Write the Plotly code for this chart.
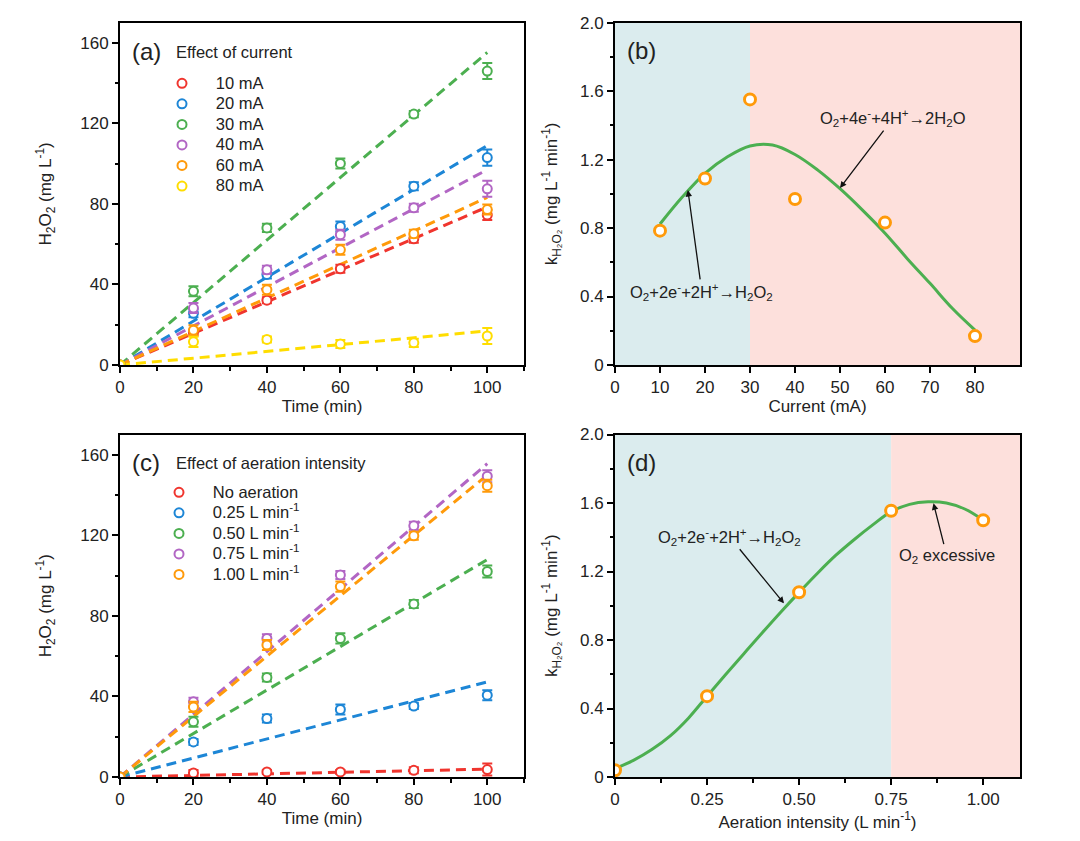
import plotly.graph_objects as go

# ---------------- data ----------------
time_min = [0, 20, 40, 60, 80, 100]

# Panel (a): effect of current
current_labels = ["10 mA", "20 mA", "30 mA", "40 mA", "60 mA", "80 mA"]
current_mA = [10, 20, 30, 40, 60, 80]
h2o2_10mA = [0, 16.0, 32.2, 47.8, 62.7, 74.5]
h2o2_20mA = [0, 25.7, 45.0, 68.8, 88.8, 103.0]
h2o2_30mA = [0, 36.6, 68.1, 100.1, 124.6, 146.0]
h2o2_40mA = [0, 28.3, 47.3, 64.7, 78.1, 87.5]
h2o2_60mA = [0, 17.3, 37.4, 57.2, 65.2, 77.2]
h2o2_80mA = [0, 11.5, 12.7, 10.4, 11.0, 14.4]
err_10mA = [0, 1.5, 1.5, 2.0, 2.0, 2.5]
err_20mA = [0, 2.0, 2.0, 2.5, 2.0, 4.0]
err_30mA = [0, 2.5, 2.0, 2.5, 1.5, 4.0]
err_40mA = [0, 2.5, 2.0, 2.5, 2.0, 4.0]
err_60mA = [0, 2.5, 2.5, 2.5, 2.0, 2.5]
err_80mA = [0, 2.5, 1.5, 2.0, 2.0, 4.0]
# rate constants (panel b), mg L-1 min-1
k_current = [0.785, 1.09, 1.552, 0.97, 0.832, 0.169]

# Panel (c): effect of aeration intensity
aeration_labels = ["No aeration", "0.25 L min<sup>-1</sup>", "0.50 L min<sup>-1</sup>",
                   "0.75 L min<sup>-1</sup>", "1.00 L min<sup>-1</sup>"]
aeration_rate = [0, 0.25, 0.50, 0.75, 1.00]
h2o2_air0 = [0, 2.0, 2.5, 2.5, 3.3, 3.7]
h2o2_air025 = [0, 17.4, 29.0, 33.5, 35.2, 40.6]
h2o2_air050 = [0, 27.4, 49.4, 68.8, 85.9, 102.0]
h2o2_air075 = [0, 37.3, 68.8, 100.3, 124.7, 149.3]
h2o2_air100 = [0, 34.8, 65.5, 94.5, 119.7, 144.6]
err_air0 = [0, 1.5, 1.0, 1.0, 1.5, 3.0]
err_air025 = [0, 1.5, 2.0, 2.5, 1.5, 2.5]
err_air050 = [0, 2.5, 2.0, 2.5, 2.0, 3.0]
err_air075 = [0, 2.0, 2.0, 2.0, 2.0, 3.0]
err_air100 = [0, 2.5, 2.5, 2.5, 2.0, 3.0]
k_aeration = [0.039, 0.472, 1.079, 1.555, 1.499]

# smooth guide curves
curve_b_x = [10, 15, 20, 25, 30, 35, 40, 45, 50, 55, 60, 65, 70, 75, 80]
curve_b_y = [0.824, 0.983, 1.12, 1.217, 1.28, 1.285, 1.23, 1.14, 1.03, 0.905, 0.77, 0.62, 0.477, 0.33, 0.204]
curve_d_x = [0, 0.05, 0.1, 0.15, 0.2, 0.25, 0.3, 0.35, 0.4, 0.45, 0.5, 0.55, 0.6, 0.65, 0.7,
             0.75, 0.8, 0.85, 0.9, 0.95, 1.0]
curve_d_y = [0.049, 0.097, 0.16, 0.24, 0.345, 0.472, 0.597, 0.72, 0.842, 0.962, 1.078, 1.19, 1.295,
             1.387, 1.472, 1.55, 1.592, 1.607, 1.60, 1.565, 1.50]

split_b = 30
split_d = 0.75

# tick labels
ticks_time = [0, 20, 40, 60, 80, 100]
ticks_h2o2 = [0, 40, 80, 120, 160]
ticks_current = [0, 10, 20, 30, 40, 50, 60, 70, 80]
ticks_k = [0, 0.4, 0.8, 1.2, 1.6, 2.0]
ticks_k_text = ["0", "0.4", "0.8", "1.2", "1.6", "2.0"]
ticks_air = [0, 0.25, 0.5, 0.75, 1.0]
ticks_air_text = ["0", "0.25", "0.50", "0.75", "1.00"]

# ---------------- styles ----------------
C_RED = "#F0352E"
C_BLUE = "#1D86D6"
C_GREEN = "#4CAF50"
C_PURPLE = "#B266C4"
C_ORANGE = "#FF9A0A"
C_YELLOW = "#FFDD00"
C_BLUE_BG = "#DBECEE"
C_PINK_BG = "#FDE0DC"
FONT = "Arial, Liberation Sans, sans-serif"
TXT = "#222222"

cur_series = [h2o2_10mA, h2o2_20mA, h2o2_30mA, h2o2_40mA, h2o2_60mA, h2o2_80mA]
cur_err = [err_10mA, err_20mA, err_30mA, err_40mA, err_60mA, err_80mA]
cur_colors = [C_RED, C_BLUE, C_GREEN, C_PURPLE, C_ORANGE, C_YELLOW]

air_series = [h2o2_air0, h2o2_air025, h2o2_air050, h2o2_air075, h2o2_air100]
air_err = [err_air0, err_air025, err_air050, err_air075, err_air100]
air_colors = [C_RED, C_BLUE, C_GREEN, C_PURPLE, C_ORANGE]

fig = go.Figure()

DASH = "10px,6px"
PAD = "\u00a0\u00a0\u00a0"


def leg_name(lab):
    return '<span style="font-size:16.5px">' + PAD + lab + "</span>"


def add_kinetics(series, errs, colors, labels, ks, xa, ya, legend):
    # fitted lines y = k t (drawn first so markers sit on top)
    for k, col in zip(ks, colors):
        fig.add_trace(go.Scatter(
            x=[time_min[0], time_min[-1]], y=[k * time_min[0], k * time_min[-1]],
            mode="lines", line=dict(color=col, width=3, dash=DASH),
            xaxis=xa, yaxis=ya, showlegend=False, hoverinfo="skip"))
    for ys, er, col, lab in zip(series, errs, colors, labels):
        fig.add_trace(go.Scatter(
            x=time_min, y=ys, mode="markers", name=leg_name(lab),
            marker=dict(symbol="circle", size=9, color="white",
                        line=dict(color=col, width=2)),
            error_y=dict(type="data", array=er, visible=True, color=col,
                         thickness=2, width=5),
            xaxis=xa, yaxis=ya, legend=legend))


add_kinetics(cur_series, cur_err, cur_colors, current_labels, k_current, "x", "y", "legend")
add_kinetics(air_series, air_err, air_colors, aeration_labels, k_aeration, "x3", "y3", "legend2")

# panel (b)
fig.add_trace(go.Scatter(x=curve_b_x, y=curve_b_y, mode="lines",
                         line=dict(color=C_GREEN, width=3, shape="spline", smoothing=1.0),
                         xaxis="x2", yaxis="y2", showlegend=False, hoverinfo="skip"))
fig.add_trace(go.Scatter(x=current_mA, y=k_current, mode="markers",
                         marker=dict(symbol="circle", size=11, color="white",
                                     line=dict(color=C_ORANGE, width=3)),
                         xaxis="x2", yaxis="y2", showlegend=False))
# panel (d)
fig.add_trace(go.Scatter(x=curve_d_x, y=curve_d_y, mode="lines",
                         line=dict(color=C_GREEN, width=3, shape="spline", smoothing=1.0),
                         xaxis="x4", yaxis="y4", showlegend=False, hoverinfo="skip"))
fig.add_trace(go.Scatter(x=aeration_rate, y=k_aeration, mode="markers",
                         marker=dict(symbol="circle", size=11, color="white",
                                     line=dict(color=C_ORANGE, width=3)),
                         xaxis="x4", yaxis="y4", showlegend=False))

# background shading
shapes = [
    dict(type="rect", xref="x2", yref="y2 domain", x0=0, x1=split_b, y0=0, y1=1,
         fillcolor=C_BLUE_BG, line=dict(width=0), layer="below"),
    dict(type="rect", xref="x2", yref="y2 domain", x0=split_b, x1=90, y0=0, y1=1,
         fillcolor=C_PINK_BG, line=dict(width=0), layer="below"),
    dict(type="rect", xref="x4", yref="y4 domain", x0=0, x1=split_d, y0=0, y1=1,
         fillcolor=C_BLUE_BG, line=dict(width=0), layer="below"),
    dict(type="rect", xref="x4", yref="y4 domain", x0=split_d, x1=1.1, y0=0, y1=1,
         fillcolor=C_PINK_BG, line=dict(width=0), layer="below"),
]

W, H = 1080, 841
dom_x_left = [120 / W, 524 / W]
dom_x_right = [615 / W, 1020 / W]
dom_y_top = [1 - 365 / H, 1 - 22.7 / H]
dom_y_bot = [1 - 777 / H, 1 - 434.5 / H]


def axis(domain, anchor, rng, tickvals, ticktext=None, minor_dtick=None, title=None, standoff=4):
    d = dict(domain=domain, anchor=anchor, range=rng, showgrid=False, zeroline=False,
             automargin=False,
             showline=True, linecolor="black", linewidth=2, mirror=True,
             ticks="outside", ticklen=6, tickwidth=1.5, tickcolor="black",
             tickvals=tickvals, tickfont=dict(size=17, color=TXT, family=FONT),
             title=dict(text=title, font=dict(size=17, color=TXT, family=FONT), standoff=standoff))
    if ticktext is not None:
        d["ticktext"] = ticktext
    if minor_dtick is not None:
        d["minor"] = dict(ticks="outside", ticklen=3.5, tickwidth=1.5, tickcolor="black",
                          dtick=minor_dtick, tick0=0, showgrid=False)
    return d


H2O2_T = "H<sub>2</sub>O<sub>2</sub> (mg L<sup>-1</sup>)"
K_T = "k<sub>H\u2082O\u2082</sub> (mg L<sup>-1</sup> min<sup>-1</sup>)"

LEG_FONT = dict(size=13.5, color=TXT, family=FONT)

fig.update_layout(
    width=W, height=H, margin=dict(l=0, r=0, t=0, b=0, autoexpand=False),
    paper_bgcolor="white", plot_bgcolor="white",
    font=dict(family=FONT, color=TXT),
    xaxis=axis(dom_x_left, "y", [0, 110], ticks_time, minor_dtick=10, title="Time (min)"),
    yaxis=axis(dom_y_top, "x", [0, 170], ticks_h2o2, minor_dtick=20, title=H2O2_T, standoff=24),
    xaxis2=axis(dom_x_right, "y2", [0, 90], ticks_current, title="Current (mA)"),
    yaxis2=axis(dom_y_top, "x2", [0, 2.0], ticks_k, ticks_k_text, minor_dtick=0.2, title=K_T,
                standoff=18),
    xaxis3=axis(dom_x_left, "y3", [0, 110], ticks_time, minor_dtick=10, title="Time (min)"),
    yaxis3=axis(dom_y_bot, "x3", [0, 170], ticks_h2o2, minor_dtick=20, title=H2O2_T, standoff=24),
    xaxis4=axis(dom_x_right, "y4", [0, 1.1], ticks_air, ticks_air_text, minor_dtick=0.125,
                title="Aeration intensity (L min<sup>-1</sup>)"),
    yaxis4=axis(dom_y_bot, "x4", [0, 2.0], ticks_k, ticks_k_text, minor_dtick=0.2, title=K_T,
                standoff=18),
    shapes=shapes,
    legend=dict(x=162 / W, y=1 - 68 / H, xanchor="left", yanchor="top",
                bgcolor="rgba(0,0,0,0)", font=LEG_FONT, tracegroupgap=0, itemclick=False),
    legend2=dict(x=159 / W, y=1 - 477 / H, xanchor="left", yanchor="top",
                 bgcolor="rgba(0,0,0,0)", font=LEG_FONT, tracegroupgap=0, itemclick=False),
)

label_font = dict(size=24, color=TXT, family=FONT)
ann_font = dict(size=16.5, color=TXT, family=FONT)
title_font = dict(size=16.5, color=TXT, family=FONT)
annotations = [
    dict(text="(a)", xref="x domain", yref="y domain", x=0.025, y=0.915, xanchor="left",
         yanchor="middle", showarrow=False, font=label_font),
    dict(text="(b)", xref="x2 domain", yref="y2 domain", x=0.025, y=0.92, xanchor="left",
         yanchor="middle", showarrow=False, font=label_font),
    dict(text="(c)", xref="x3 domain", yref="y3 domain", x=0.025, y=0.917, xanchor="left",
         yanchor="middle", showarrow=False, font=label_font),
    dict(text="(d)", xref="x4 domain", yref="y4 domain", x=0.025, y=0.917, xanchor="left",
         yanchor="middle", showarrow=False, font=label_font),
    dict(text="Effect of current", xref="paper", yref="paper", x=174 / W, y=1 - 51.7 / H,
         xanchor="left", yanchor="middle", showarrow=False, font=title_font),
    dict(text="Effect of aeration intensity", xref="paper", yref="paper", x=174 / W,
         y=1 - 463 / H, xanchor="left", yanchor="middle", showarrow=False, font=title_font),
    dict(text="O<sub>2</sub>+4e<sup>-</sup>+4H<sup>+</sup>\u21922H<sub>2</sub>O",
         xref="x2", yref="y2", x=50, y=1.034, axref="x2", ayref="y2", ax=61.8, ay=1.443,
         showarrow=True, arrowhead=2, arrowsize=1, arrowwidth=1.3, arrowcolor="#111",
         font=ann_font),
    dict(text="O<sub>2</sub>+2e<sup>-</sup>+2H<sup>+</sup>\u2192H<sub>2</sub>O<sub>2</sub>",
         xref="x2", yref="y2", x=16.2, y=1.022, axref="x2", ayref="y2", ax=19.3, ay=0.427,
         showarrow=True, arrowhead=2, arrowsize=1, arrowwidth=1.3, arrowcolor="#111",
         font=ann_font),
    dict(text="O<sub>2</sub>+2e<sup>-</sup>+2H<sup>+</sup>\u2192H<sub>2</sub>O<sub>2</sub>",
         xref="x4", yref="y4", x=0.459, y=1.014, axref="x4", ayref="y4", ax=0.311, ay=1.403,
         showarrow=True, arrowhead=2, arrowsize=1, arrowwidth=1.3, arrowcolor="#111",
         font=ann_font),
    dict(text="O<sub>2</sub> excessive",
         xref="x4", yref="y4", x=0.865, y=1.598, axref="x4", ayref="y4", ax=0.901, ay=1.293,
         showarrow=True, arrowhead=2, arrowsize=1, arrowwidth=1.3, arrowcolor="#111",
         font=ann_font),
]
fig.update_layout(annotations=annotations)

fig.write_html("out.html")
